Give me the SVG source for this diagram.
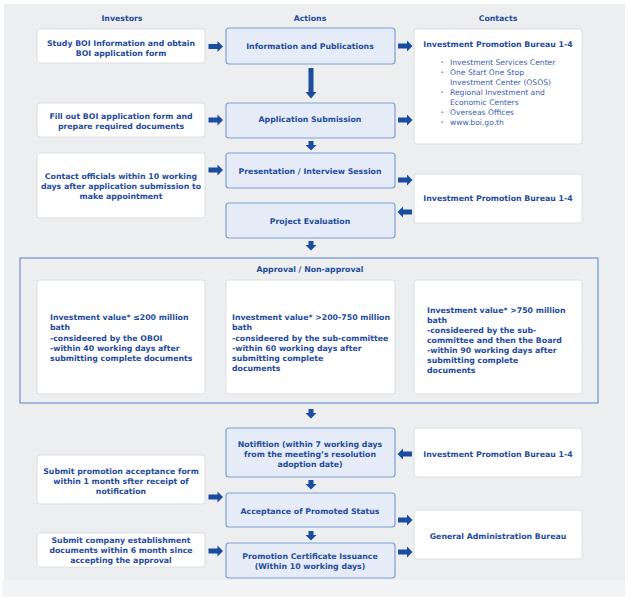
<svg xmlns="http://www.w3.org/2000/svg" width="628" height="599" viewBox="0 0 628 599">
<style>
text{font-family:"DejaVu Sans","Liberation Sans",sans-serif;font-size:7.8px;fill:#1f4c9c}
.b{font-weight:bold}
.c{text-anchor:middle}
.n{font-weight:normal;fill:#3d62ab;font-size:7.6px}
.act{fill:#e5ecf7;stroke:#7e9fd2;stroke-width:1.2}
.wb{fill:#ffffff;stroke:#dcdee2;stroke-width:1}
.arr{fill:#1b4d9f}
.frame{fill:none;stroke:#7094cc;stroke-width:1.2}
</style>
<defs>
<path id="ar" d="M0,-2.5H9V-5.5L14.5,0L9,5.5V2.5H0Z"/>
<path id="al" d="M0,-2.5H-9V-5.5L-14.5,0L-9,5.5V2.5H0Z"/>
<path id="ad" d="M-2.5,0V4H-5.5L0,9.5L5.5,4H2.5V0Z"/>
</defs>
<rect x="0" y="0" width="628" height="599" fill="#ffffff"/>
<rect x="2" y="580" width="623" height="17" fill="#f3f4f5"/>
<rect x="4" y="4" width="621" height="576" fill="#edeef0"/>

<g id="headers">
<text class="b c" x="122" y="21">Investors</text>
<text class="b c" x="310" y="21">Actions</text>
<text class="b c" x="498" y="21">Contacts</text>
</g>

<g id="inv1"><rect class="wb" x="37" y="29" width="168" height="34" rx="3"/>
<text class="b c" x="121" y="46">Study BOI Information and obtain</text>
<text class="b c" x="121" y="56">BOI application form</text></g>

<g id="act1"><rect class="act" x="226" y="28" width="169" height="36" rx="3"/>
<text class="b c" x="310" y="49">Information and Publications</text></g>

<g id="con1"><rect class="wb" x="414" y="29" width="168" height="115" rx="3"/>
<text class="b c" x="498" y="47">Investment Promotion Bureau 1-4</text>
<g fill="#5b7fc0"><rect x="441.5" y="61.5" width="1.4" height="1.4"/><rect x="441.5" y="71.5" width="1.4" height="1.4"/><rect x="441.5" y="91.5" width="1.4" height="1.4"/><rect x="441.5" y="111.5" width="1.4" height="1.4"/><rect x="441.5" y="121.5" width="1.4" height="1.4"/></g>
<text class="n" x="450" y="65">Investment Services Center</text>
<text class="n" x="450" y="75">One Start One Stop</text>
<text class="n" x="450" y="85">Investment Center (OSOS)</text>
<text class="n" x="450" y="95">Regional Investment and</text>
<text class="n" x="450" y="105">Economic Centers</text>
<text class="n" x="450" y="115">Overseas Offices</text>
<text class="n" x="450" y="125">www.boi.go.th</text></g>

<g id="inv2"><rect class="wb" x="37" y="103" width="168" height="34" rx="3"/>
<text class="b c" x="121" y="119">Fill out BOI application form and</text>
<text class="b c" x="121" y="129">prepare required documents</text></g>

<g id="act2"><rect class="act" x="226" y="103" width="169" height="35" rx="3"/>
<text class="b c" x="310" y="122">Application Submission</text></g>

<g id="inv3"><rect class="wb" x="37" y="153" width="168" height="65" rx="3"/>
<text class="b c" x="121" y="179">Contact officials within 10 working</text>
<text class="b c" x="121" y="189">days after application submission to</text>
<text class="b c" x="121" y="199">make appointment</text></g>

<g id="act3"><rect class="act" x="226" y="153" width="169" height="35" rx="3"/>
<text class="b c" x="310" y="174">Presentation / Interview Session</text></g>

<g id="con2"><rect class="wb" x="414" y="174" width="168" height="49" rx="3"/>
<text class="b c" x="498" y="201">Investment Promotion Bureau 1-4</text></g>

<g id="act4"><rect class="act" x="226" y="203" width="169" height="35" rx="3"/>
<text class="b c" x="310" y="224">Project Evaluation</text></g>

<g id="approval"><rect class="frame" x="20" y="258" width="578" height="145"/>
<text class="b c" x="310" y="272">Approval / Non-approval</text>
<g id="appA"><rect class="wb" x="37" y="280" width="168" height="114" rx="3"/>
<text class="b" x="50" y="320">Investment value* ≤200 million</text>
<text class="b" x="50" y="330">bath</text>
<text class="b" x="50" y="340.5">-consideered by the OBOI</text>
<text class="b" x="50" y="350.5">-within 40 working days after</text>
<text class="b" x="50" y="360.5">submitting complete documents</text></g>
<g id="appB"><rect class="wb" x="226" y="280" width="169" height="114" rx="3"/>
<text class="b" x="232" y="320">Investment value* &gt;200-750 million</text>
<text class="b" x="232" y="330">bath</text>
<text class="b" x="232" y="340.5">-consideered by the sub-committee</text>
<text class="b" x="232" y="350.5">-within 60 working days after</text>
<text class="b" x="232" y="360.5">submitting complete</text>
<text class="b" x="232" y="370.5">documents</text></g>
<g id="appC"><rect class="wb" x="414" y="280" width="168" height="114" rx="3"/>
<text class="b" x="427" y="313">Investment value* &gt;750 million</text>
<text class="b" x="427" y="323">bath</text>
<text class="b" x="427" y="333">-consideered by the sub-</text>
<text class="b" x="427" y="343">committee and then the Board</text>
<text class="b" x="427" y="353">-within 90 working days after</text>
<text class="b" x="427" y="363">submitting complete</text>
<text class="b" x="427" y="373">documents</text></g></g>

<g id="act5"><rect class="act" x="226" y="428" width="169" height="49" rx="3"/>
<text class="b c" x="310" y="447">Notifition (within 7 working days</text>
<text class="b c" x="310" y="457">from the meeting’s resolution</text>
<text class="b c" x="310" y="467">adoption date)</text></g>

<g id="con3"><rect class="wb" x="414" y="428" width="168" height="49" rx="3"/>
<text class="b c" x="498" y="457">Investment Promotion Bureau 1-4</text></g>

<g id="inv4"><rect class="wb" x="37" y="455" width="168" height="49" rx="3"/>
<text class="b c" x="121" y="474">Submit promotion acceptance form</text>
<text class="b c" x="121" y="484">within 1 month sfter receipt of</text>
<text class="b c" x="121" y="494">notification</text></g>

<g id="act6"><rect class="act" x="226" y="493" width="169" height="34" rx="3"/>
<text class="b c" x="310" y="514">Acceptance of Promoted Status</text></g>

<g id="con4"><rect class="wb" x="414" y="510" width="168" height="49" rx="3"/>
<text class="b c" x="498" y="539">General Administration Bureau</text></g>

<g id="inv5"><rect class="wb" x="37" y="533" width="168" height="34" rx="3"/>
<text class="b c" x="121" y="543">Submit company establishment</text>
<text class="b c" x="121" y="553">documents within 6 month since</text>
<text class="b c" x="121" y="563">accepting the approval</text></g>

<g id="act7"><rect class="act" x="226" y="543" width="169" height="35" rx="3"/>
<text class="b c" x="310" y="559">Promotion Certificate Issuance</text>
<text class="b c" x="310" y="569">(Within 10 working days)</text></g>

<g id="connectors" class="arr">
<use href="#ar" x="208.5" y="46.5"/>
<use href="#ar" x="398" y="46"/>
<path d="M308.5,68V92H305.5L311,98.5L316.5,92H313.5V68Z"/>
<use href="#ar" x="208.5" y="120"/>
<use href="#ar" x="398" y="120"/>
<use href="#ad" x="311" y="141"/>
<use href="#ar" x="208.5" y="170"/>
<use href="#ar" x="398" y="180"/>
<use href="#al" x="412" y="212"/>
<use href="#ad" x="311" y="241"/>
<use href="#ad" x="311" y="409"/>
<use href="#al" x="412" y="454"/>
<use href="#ad" x="311" y="480"/>
<use href="#ar" x="208.5" y="497"/>
<use href="#ar" x="398" y="520"/>
<use href="#ad" x="311" y="531"/>
<use href="#ar" x="208.5" y="551"/>
<use href="#ar" x="398" y="552"/>
</g>
</svg>
